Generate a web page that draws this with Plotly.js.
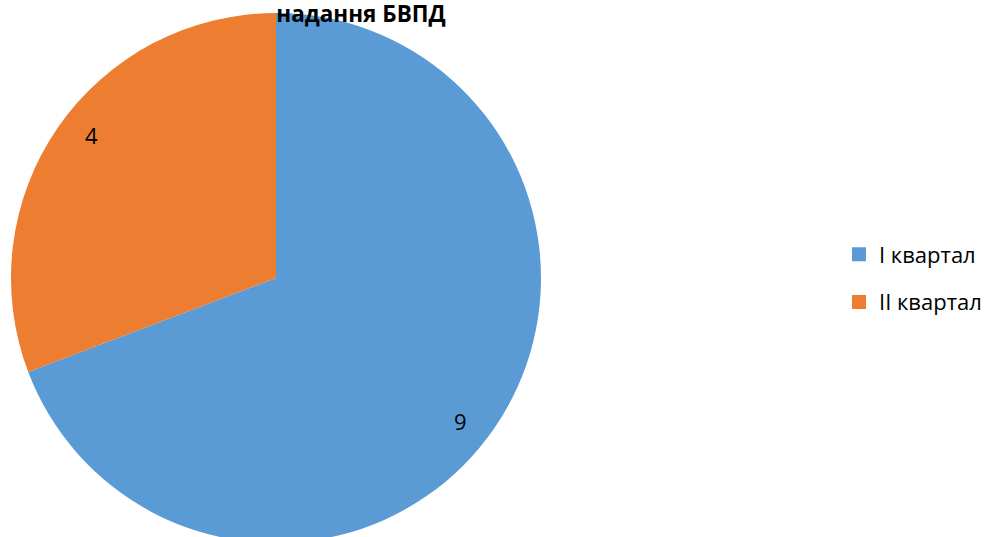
<!DOCTYPE html>
<html>
<head>
<meta charset="utf-8">
<script src="https://cdn.plot.ly/plotly-3.0.1.min.js"></script>
<style>html,body{margin:0;padding:0;overflow:hidden;background:#fff}</style>
</head>
<body>
<div id="chart" style="width:989px;height:560px"></div>
<script>
const categories = ["I квартал", "II квартал"];
const values = [9, 4];
const colors = ["#5B9BD5", "#ED7D31"];
const titleText = "надання БВПД";

const W = 989, H = 560;
const cx = 276, cy = 278, R = 265;
const FONT = "Open Sans";
const labelRadius = 0.883;      // fraction of pie radius
const labelAngleShift = 3.2;    // degrees, clockwise

const pie = {
  type: "pie",
  labels: categories,
  values: values,
  sort: false,
  direction: "clockwise",
  rotation: 0,
  marker: {colors: colors, line: {width: 0}},
  textinfo: "none",
  showlegend: false,
  domain: {x: [(cx - R) / W, (cx + R) / W], y: [(H - cy - R) / H, (H - cy + R) / H]},
  hoverinfo: "label+value"
};

// legend entries, one per category (colours from the same arrays)
const legendTraces = categories.map((c, i) => ({
  type: "scatter", mode: "markers", x: [null], y: [null],
  name: c, legendgroup: "g" + i,
  marker: {symbol: "square", size: 14, color: colors[i]},
  hoverinfo: "skip"
}));

// value labels placed near the middle angle of each slice
const total = values.reduce((a, b) => a + b, 0);
let cum = 0;
const annotations = values.map((v, i) => {
  const mid = (cum + v / 2) / total * 2 * Math.PI + labelAngleShift * Math.PI / 180;
  cum += v;
  const r = labelRadius * R;
  return {
    xref: "paper", yref: "paper",
    x: (cx + r * Math.sin(mid)) / W,
    y: (H - (cy - r * Math.cos(mid))) / H,
    text: String(v), showarrow: false,
    xanchor: "center", yanchor: "middle",
    font: {family: FONT, size: 22, color: "#000"}
  };
});

const layout = {
  width: W, height: H,
  margin: {l: 0, r: 0, t: 0, b: 0},
  paper_bgcolor: "#fff",
  plot_bgcolor: "rgba(0,0,0,0)",
  showlegend: true,
  xaxis: {visible: false, fixedrange: true},
  yaxis: {visible: false, fixedrange: true},
  title: {text: "<b>" + titleText + "</b>", x: 361 / W, xanchor: "center", xref: "paper",
          y: (H - 14) / H, yanchor: "middle", yref: "container",
          font: {family: FONT, size: 22.5, color: "#000"}},
  legend: {x: 839 / W, xanchor: "left", y: (H - 278.5) / H, yanchor: "middle",
           font: {family: FONT, size: 22, color: "#000"}, tracegroupgap: 16},
  annotations: annotations
};

Plotly.newPlot("chart", [pie].concat(legendTraces), layout, {displayModeBar: false, staticPlot: true});
</script>
</body>
</html>
